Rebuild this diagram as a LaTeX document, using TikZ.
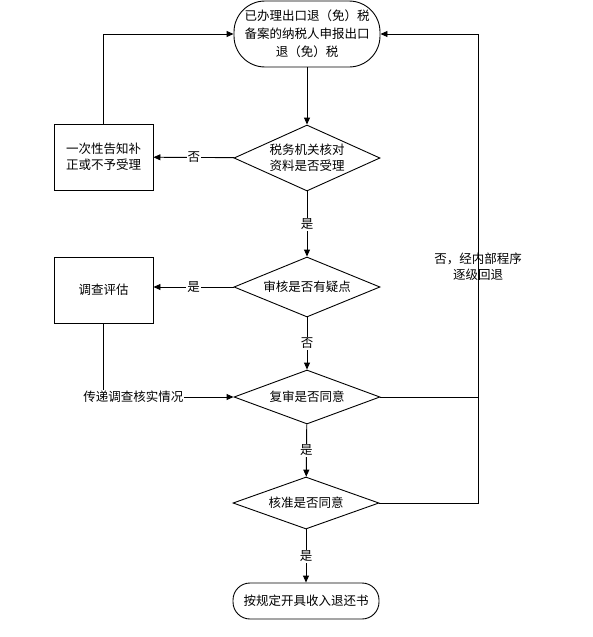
\documentclass[tikz,border=0pt]{standalone}
\usepackage{fontspec}
\setmainfont{Noto Sans CJK SC}
\usetikzlibrary{shapes.geometric,arrows.meta}
\begin{document}
\begin{tikzpicture}[x=1pt,y=-1pt, line width=0.9pt,
 term/.style={draw, rectangle, minimum width=146pt, inner sep=0pt, align=center},
 dec/.style={draw, diamond, minimum width=146pt, inner sep=0pt, align=center},
 boxn/.style={draw, rectangle, minimum width=99pt, minimum height=66pt, inner sep=0pt, align=center},
 arr/.style={-{Triangle[length=7pt,width=6pt]}},
 lbl/.style={fill=white, inner sep=1pt},
 font=\fontsize{12.5}{16}\selectfont]
\useasboundingbox (0,0) rectangle (593,637);
\node[term, rounded corners=31pt, minimum height=66pt, font=\fontsize{12.5}{18}\selectfont] (start) at (307,34) {已办理出口退（免）税\\备案的纳税人申报出口\\退（免）税};
\node[dec, aspect=2.21, minimum height=66pt] (d1) at (307,158) {税务机关核对\\资料是否受理};
\node[boxn] (box1) at (103.5,157) {一次性告知补\\正或不予受理};
\node[dec, aspect=2.43, minimum height=60pt] (d2) at (307,287) {审核是否有疑点};
\node[boxn] (box2) at (103.5,290) {调查评估};
\node[dec, aspect=2.7, minimum height=54pt] (d3) at (307,397) {复审是否同意};
\node[dec, aspect=2.8, minimum height=52pt] (d4) at (306,503) {核准是否同意};
\node[term, rounded corners=17pt, minimum height=36pt] (end) at (306,601) {按规定开具收入退还书};
\coordinate (back) at (478,34);

\draw[arr] (start) -- (d1);
\draw[arr] (d1) -- node[lbl]{否} (box1);
\draw[arr] (box1.north) |- (start.west);
\draw[arr] (d1) -- node[lbl]{是} (d2);
\draw[arr] (d2.west) -- node[lbl]{是} (d2.west -| box2.east);
\draw[arr] (d2) -- node[lbl]{否} (d3);
\draw[arr] (box2.south) -- (box2.south |- d3.west) -- node[pos=0.23,lbl]{传递调查核实情况} (d3.west);
\draw (d3.east) -| node[pos=0.68,lbl,align=center]{否，经内部程序\\逐级回退} (back);
\draw[arr] (back) -- (start.east);
\draw[arr] (d3) -- node[lbl]{是} (d4);
\draw (d4.east) -| (back);
\draw[arr] (d4) -- node[lbl]{是} (end);
\end{tikzpicture}
\end{document}
